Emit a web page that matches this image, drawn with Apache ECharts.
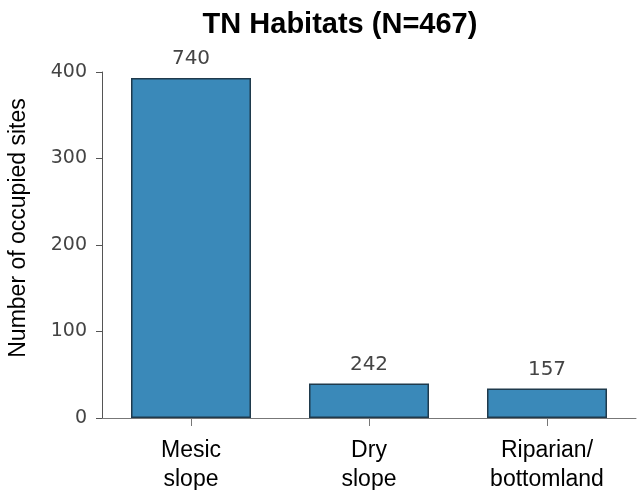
<!DOCTYPE html>
<html>
<head>
<meta charset="utf-8">
<script src="https://cdn.jsdelivr.net/npm/echarts@6/dist/echarts.min.js"></script>
<style>
  html, body { margin: 0; padding: 0; background: #fff; }
  #chart { width: 637px; height: 490px; }
</style>
</head>
<body>
<div id="chart"></div>
<script>
// Habitat categories (two-line labels)
const habitats = ['Mesic\nslope', 'Dry\nslope', 'Riparian/\nbottomland'];
// Number of occupied sites per habitat
const occupiedSites = [393, 40, 34];
// Annotation printed above each bar
const barNotes = ['740', '242', '157'];
// Y axis ticks
const yTicks = [0, 100, 200, 300, 400];

const chart = echarts.init(document.getElementById('chart'), null, { renderer: 'canvas' });

chart.setOption({
  animation: false,
  backgroundColor: '#ffffff',
  title: {
    text: 'TN Habitats (N=467)',
    left: 335,
    top: 5,
    textAlign: 'center',
    textStyle: {
      fontFamily: 'Liberation Sans, Arial, sans-serif',
      fontWeight: 'bold',
      fontSize: 29,
      color: '#000'
    }
  },
  grid: {
    left: 102, right: 1, top: 72, bottom: 72,
    containLabel: false,
    outerBoundsMode: 'none'
  },
  xAxis: {
    type: 'category',
    data: habitats,
    axisLine: { show: true, lineStyle: { color: '#777', width: 1 } },
    axisTick: { show: true, alignWithLabel: true, length: 8, lineStyle: { color: '#777' } },
    axisLabel: {
      margin: 18,
      interval: 0,
      fontFamily: 'Liberation Sans, Arial, sans-serif',
      fontSize: 23,
      lineHeight: 29,
      color: '#000'
    }
  },
  yAxis: {
    type: 'value',
    min: yTicks[0],
    max: yTicks[yTicks.length - 1],
    interval: 100,
    name: 'Number of occupied sites',
    nameLocation: 'middle',
    nameGap: 72,
    nameTextStyle: {
      fontFamily: 'Liberation Sans, Arial, sans-serif',
      fontSize: 23,
      color: '#000',
      // nudge the rotated title a little toward the top of the axis
      padding: [0, 0, 0, 34]
    },
    axisLine: { show: true, lineStyle: { color: '#555', width: 1 } },
    axisTick: { show: true, length: 6, lineStyle: { color: '#555' } },
    axisLabel: {
      margin: 15,
      fontFamily: 'DejaVu Sans, Verdana, sans-serif',
      fontSize: 19,
      color: '#444'
    },
    splitLine: { show: false }
  },
  series: [{
    type: 'bar',
    data: occupiedSites,
    barWidth: 120,
    itemStyle: {
      color: '#3a89b9',
      borderColor: '#1f3a4c',
      borderWidth: 1.5
    },
    label: {
      show: true,
      position: 'top',
      distance: 9,
      formatter: p => barNotes[p.dataIndex],
      fontFamily: 'DejaVu Sans, Verdana, sans-serif',
      fontSize: 20,
      color: '#444'
    }
  }]
});
</script>
</body>
</html>
